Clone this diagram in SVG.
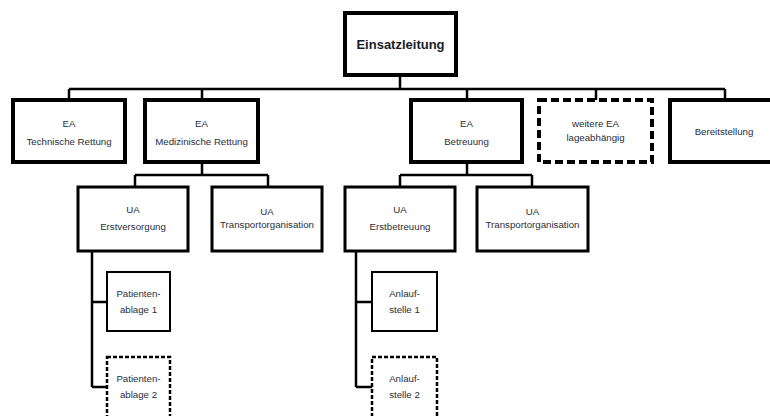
<svg xmlns="http://www.w3.org/2000/svg" width="770" height="416" viewBox="0 0 770 416">
<style>
.bg{fill:#ffffff}
rect{fill:#ffffff;stroke:#000}
.l0{stroke-width:4}
.l1{stroke-width:4}
.l2{stroke-width:3}
.l3{stroke-width:2}
.dash1{stroke-dasharray:8 4}
.dash3{stroke-dasharray:4 2;stroke-width:2.5}
.c{fill:none;stroke:#000;stroke-width:2.5}
text{font-family:"Liberation Sans",Arial,sans-serif;font-size:9.7px;fill:#2a2d3a;text-anchor:middle}
.title{font-size:13px;font-weight:bold;fill:#1a1c28}
</style>
<rect class="bg" x="0" y="0" width="770" height="416" style="stroke:none"/>
<g id="connectors">
<path class="c" d="M400 75V89M69 89H725M69 89V100M202 89V100M467 89V100M596 89V100M725 89V100"/>
<path class="c" d="M202 162V175M135 175H268M135 175V187M268 175V187"/>
<path class="c" d="M467 162V175M400 175H532M400 175V187M532 175V187"/>
<path class="c" d="M92 251V387M92 302H107M92 387H107"/>
<path class="c" d="M356 251V387M356 302H372M356 387H372"/>
</g>
<g id="einsatzleitung"><rect class="l0" x="345" y="13" width="111" height="62"/><text class="title" x="400.5" y="49">Einsatzleitung</text></g>
<g id="ea-technische"><rect class="l1" x="13" y="100" width="112" height="62"/><text x="69" y="127">EA</text><text x="69" y="145">Technische Rettung</text></g>
<g id="ea-medizinische"><rect class="l1" x="145" y="100" width="113" height="62"/><text x="201.5" y="127">EA</text><text x="201.5" y="145">Medizinische Rettung</text></g>
<g id="ea-betreuung"><rect class="l1" x="411" y="100" width="111" height="62"/><text x="466.5" y="127">EA</text><text x="466.5" y="145">Betreuung</text></g>
<g id="ea-weitere"><rect class="l1 dash1" x="539" y="100" width="113" height="62"/><text x="595.5" y="127">weitere EA</text><text x="595.5" y="141">lageabhängig</text></g>
<g id="bereitstellung"><rect class="l1" x="670" y="100" width="112" height="62"/><text x="724" y="135">Bereitstellung</text></g>
<g id="ua-erstversorgung"><rect class="l2" x="78" y="187" width="110" height="64"/><text x="133" y="213">UA</text><text x="133" y="230">Erstversorgung</text></g>
<g id="ua-transport1"><rect class="l2" x="212" y="187" width="110" height="64"/><text x="267" y="215">UA</text><text x="267" y="228">Transportorganisation</text></g>
<g id="ua-erstbetreuung"><rect class="l2" x="345" y="187" width="110" height="64"/><text x="400" y="213">UA</text><text x="400" y="230">Erstbetreuung</text></g>
<g id="ua-transport2"><rect class="l2" x="477" y="187" width="111" height="64"/><text x="532.5" y="215">UA</text><text x="532.5" y="228">Transportorganisation</text></g>
<g id="patientenablage1"><rect class="l3" x="107" y="272" width="63" height="59"/><text x="138.5" y="297">Patienten-</text><text x="138.5" y="313">ablage 1</text></g>
<g id="patientenablage2"><rect class="l3 dash3" x="107" y="357" width="63" height="70"/><text x="138.5" y="382">Patienten-</text><text x="138.5" y="398">ablage 2</text></g>
<g id="anlaufstelle1"><rect class="l3" x="372" y="272" width="65" height="59"/><text x="404.5" y="297">Anlauf-</text><text x="404.5" y="313">stelle 1</text></g>
<g id="anlaufstelle2"><rect class="l3 dash3" x="372" y="357" width="65" height="70"/><text x="404.5" y="382">Anlauf-</text><text x="404.5" y="398">stelle 2</text></g>
</svg>
